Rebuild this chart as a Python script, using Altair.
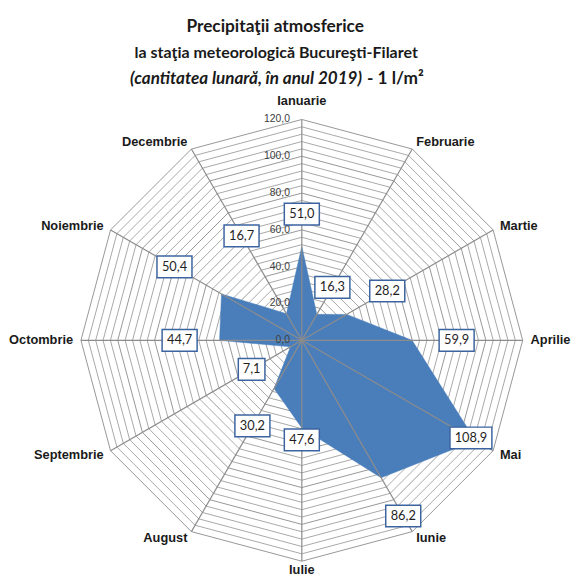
import altair as alt
import pandas as pd

# ---------------- data ----------------
months = ["Ianuarie", "Februarie", "Martie", "Aprilie", "Mai", "Iunie",
          "Iulie", "August", "Septembrie", "Octombrie", "Noiembrie", "Decembrie"]
values = [51.0, 16.3, 28.2, 59.9, 108.9, 86.2, 47.6, 30.2, 7.1, 44.7, 50.4, 16.7]
value_labels = ["51,0", "16,3", "28,2", "59,9", "108,9", "86,2",
                "47,6", "30,2", "7,1", "44,7", "50,4", "16,7"]
# radial position (in data units) where each data label sits
label_radius = [68.6, 33.2, 53.6, 84.1, 106.1, 110.2, 54.1, 53.7, 31.5, 66.4, 79.9, 65.5]
tick_values = [0, 20, 40, 60, 80, 100, 120]
tick_labels = ["0,0", "20,0", "40,0", "60,0", "80,0", "100,0", "120,0"]
grid_levels = list(range(4, 121, 4))
title_line1 = "Precipitaţii atmosferice"
title_line2 = "la staţia meteorologică Bucureşti-Filaret"
title_line3a = "(cantitatea lunară, în anul 2019)"
title_line3b = "- 1 l/m²"

# ---------------- geometry ----------------
W, H = 571, 571
CX, CY = 298, 333          # centre of the radar in view pixels
R_PX = 224                 # pixel radius of the 120 ring
R_MAX = 120
K = R_PX / R_MAX
MONTH_R = R_MAX * (R_PX + 8) / R_PX

x_dom = [-CX / K, (W - CX) / K]
y_dom = [-(H - CY) / K, CY / K]

X = alt.X("x:Q", scale=alt.Scale(domain=x_dom, nice=False, zero=False), axis=None)
Y = alt.Y("y:Q", scale=alt.Scale(domain=y_dom, nice=False, zero=False), axis=None)
X2 = alt.X2("x2:Q")
Y2 = alt.Y2("y2:Q")

df = pd.DataFrame({"month": months, "value": values, "label": value_labels,
                   "lr": label_radius, "i": list(range(12))})
grid_df = pd.DataFrame([(lv, i) for lv in grid_levels for i in range(12)],
                       columns=["level", "i"])
tick_df = pd.DataFrame({"v": tick_values, "t": tick_labels})
ang = "datum.i * PI / 6"

# grid polygons
grid_minor = (
    alt.Chart(grid_df)
    .transform_filter("datum.level % 20 != 0")
    .transform_calculate(a=ang, x="datum.level*sin(datum.a)", y="datum.level*cos(datum.a)")
    .mark_line(interpolate="linear-closed", stroke="#A8A8A8", strokeWidth=1)
    .encode(x=X, y=Y, detail="level:N", order="i:Q")
)
grid_major = (
    alt.Chart(grid_df)
    .transform_filter("datum.level % 20 == 0")
    .transform_calculate(a=ang, x="datum.level*sin(datum.a)", y="datum.level*cos(datum.a)")
    .mark_line(interpolate="linear-closed", stroke="#969696", strokeWidth=1)
    .encode(x=X, y=Y, detail="level:N", order="i:Q")
)

# filled data polygon
poly = (
    alt.Chart(df)
    .transform_calculate(a=ang, x="datum.value*sin(datum.a)", y="datum.value*cos(datum.a)")
    .mark_line(interpolate="linear-closed", fill="#4A7EBB", stroke="#4A7EBB",
               strokeWidth=0.5, fillOpacity=1)
    .encode(x=X, y=Y, order="i:Q")
)

# spokes
spokes = (
    alt.Chart(df)
    .transform_calculate(a=ang, x="0", y="0",
                         x2=f"{R_MAX}*sin(datum.a)", y2=f"{R_MAX}*cos(datum.a)")
    .mark_rule(color="#8C8C8C", strokeWidth=1.2)
    .encode(x=X, y=Y, x2=X2, y2=Y2)
)

# radial tick labels
ticks = (
    alt.Chart(tick_df)
    .transform_calculate(x="0", y="datum.v")
    .mark_text(align="right", baseline="middle", dx=-12, font="Liberation Sans",
               fontSize=10.5, color="#404040")
    .encode(x=X, y=Y, text="t:N")
)

# month labels
def month_layer(filt, **kw):
    return (
        alt.Chart(df)
        .transform_filter(filt)
        .transform_calculate(a=ang, x=f"{MONTH_R}*sin(datum.a)", y=f"{MONTH_R}*cos(datum.a)")
        .mark_text(font="Liberation Sans", fontWeight="bold", fontSize=13,
                   color="#1A1A1A", **kw)
        .encode(x=X, y=Y, text="month:N")
    )

m_right = month_layer("datum.i >= 1 && datum.i <= 5", align="left", baseline="middle")
m_left = month_layer("datum.i >= 7", align="right", baseline="middle")
m_top = month_layer("datum.i == 0", align="center", baseline="bottom", dy=-4)
m_bot = month_layer("datum.i == 6", align="center", baseline="top", dy=-5)

# data label boxes
S = 24.0
def box(halfw, halfh=11.0):
    w, h = halfw / S, halfh / S
    return f"M{-w:.4f},{-h:.4f}L{w:.4f},{-h:.4f}L{w:.4f},{h:.4f}L{-w:.4f},{h:.4f}Z"

boxes = (
    alt.Chart(df)
    .transform_calculate(a=ang, x="datum.lr*sin(datum.a)", y="datum.lr*cos(datum.a)",
                         n="length(datum.label)")
    .mark_point(fill="white", stroke="#3B64A0", strokeWidth=1.5, opacity=1, fillOpacity=1)
    .encode(
        x=X, y=Y,
        shape=alt.Shape("n:N", scale=alt.Scale(domain=[3, 4, 5],
                                                range=[box(13.5), box(17.75), box(21.25)]),
                        legend=None),
        size=alt.value((2 * S) ** 2),
    )
)
box_text = (
    alt.Chart(df)
    .transform_calculate(a=ang, x="datum.lr*sin(datum.a)", y="datum.lr*cos(datum.a)")
    .mark_text(font="Lato", fontSize=13, color="#1F1F1F", align="center", baseline="middle")
    .encode(x=X, y=Y, text="label:N")
)

# title
def title_text(txt, xpx, ypx, size=17, **kw):
    return (
        alt.Chart(pd.DataFrame({"t": [txt]}))
        .mark_text(font="Lato", fontSize=size, fontWeight="bold", color="#1A1A1A",
                   baseline="alphabetic", **kw)
        .encode(x=alt.value(xpx), y=alt.value(ypx), text="t:N")
    )

t1 = title_text(title_line1, 271, 20, size=17.5, align="center")
t2 = title_text(title_line2, 272, 47, size=16.2, align="center")
t3a = title_text(title_line3a, 359, 73, size=17.3, align="right", fontStyle="italic")
t3b = title_text(title_line3b, 364, 73, size=17.5, align="left")

chart = alt.layer(
    grid_minor, grid_major, poly, spokes, ticks,
    m_right, m_left, m_top, m_bot, boxes, box_text,
    t1, t2, t3a, t3b,
).properties(width=W, height=H, autosize="none", padding=0).configure_view(stroke=None)

chart.save("out.html", embed_options={"renderer": "svg", "actions": False})
